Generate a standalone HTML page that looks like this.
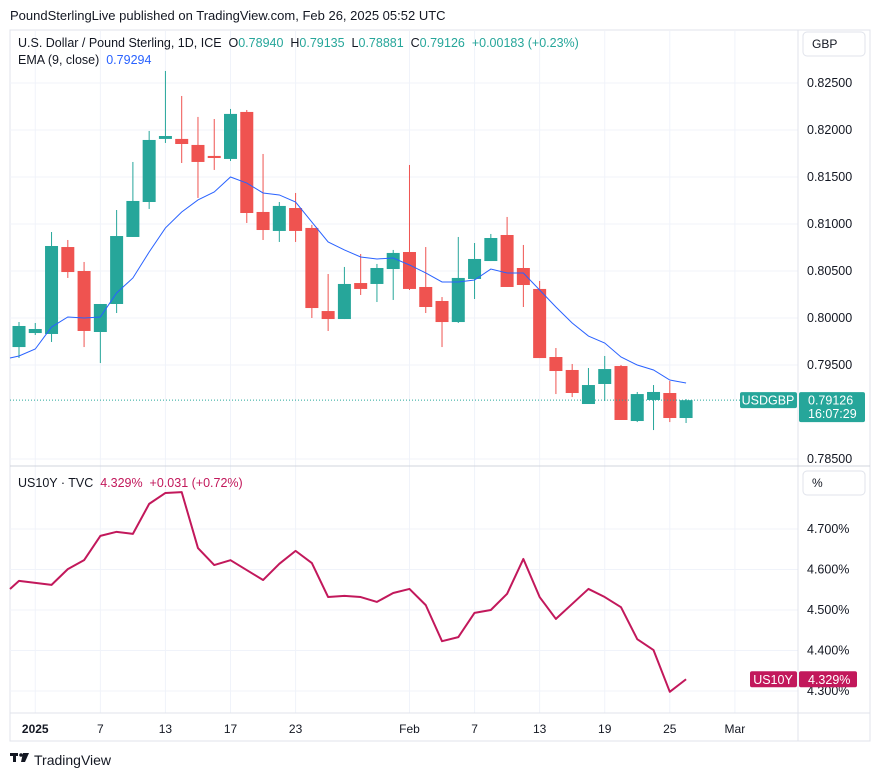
<!DOCTYPE html>
<html><head><meta charset="utf-8"><style>
body{margin:0;background:#fff;width:880px;height:776px;overflow:hidden;font-family:"Liberation Sans",sans-serif}
svg text{font-family:"Liberation Sans",sans-serif;white-space:pre}
</style></head><body>
<svg id="c" width="880" height="776" xmlns="http://www.w3.org/2000/svg">
<text x="10" y="20" font-size="13" fill="#131722">PoundSterlingLive published on TradingView.com, Feb 26, 2025 05:52 UTC</text>
<rect x="10" y="30" width="860" height="711" fill="none" stroke="#e0e3eb"/>
<g id="grid"></g>
<line x1="798" y1="30" x2="798" y2="741" stroke="#e0e3eb"/>
<line x1="10" y1="466" x2="870" y2="466" stroke="#d1d4dc"/>
<line x1="10" y1="713" x2="870" y2="713" stroke="#e0e3eb"/>
<g id="candles"></g>
<g id="ema"></g>
<g id="yld"></g>
<g id="axes"></g>
<text x="18" y="47" font-size="12.5" fill="#131722" xml:space="preserve">U.S. Dollar / Pound Sterling, 1D, ICE  O<tspan fill="#26a69a">0.78940</tspan>  H<tspan fill="#26a69a">0.79135</tspan>  L<tspan fill="#26a69a">0.78881</tspan>  C<tspan fill="#26a69a">0.79126</tspan>  <tspan fill="#26a69a">+0.00183 (+0.23%)</tspan></text>
<text x="18" y="64" font-size="12.5" fill="#131722" xml:space="preserve">EMA (9, close)  <tspan fill="#2962ff">0.79294</tspan></text>
<text x="18" y="487" font-size="12.5" fill="#131722" xml:space="preserve">US10Y · TVC  <tspan fill="#c2185b">4.329%  +0.031 (+0.72%)</tspan></text>
<rect x="803" y="32" width="62" height="24" rx="4" fill="#fff" stroke="#e0e3eb"/>
<text x="812" y="48" font-size="12" fill="#131722">GBP</text>
<rect x="803" y="471" width="62" height="24" rx="4" fill="#fff" stroke="#e0e3eb"/>
<text x="812" y="487" font-size="12" fill="#131722">%</text>
<g fill="#131722">
<rect x="10" y="753" width="8" height="3"/><rect x="13" y="753" width="3" height="9"/>
<circle cx="21" cy="755" r="1.8"/><polygon points="23,753 29,753 25,762 21,762"/>
</g>
<text x="34" y="765" font-size="14" fill="#131722">TradingView</text>
</svg>
<script>
const opens=[0.79691,0.79840,0.79830,0.80755,0.80500,0.79851,0.80149,0.80862,0.81234,0.81905,0.81905,0.81841,0.81724,0.81692,0.82192,0.81128,0.80926,0.81170,0.80958,0.80074,0.79989,0.80372,0.80362,0.80521,0.80702,0.80330,0.80181,0.79957,0.80415,0.80606,0.80883,0.80532,0.80309,0.79585,0.79447,0.79085,0.79298,0.79489,0.78904,0.79128,0.79202,0.78936];
const highs=[0.79957,0.79947,0.80915,0.80830,0.80596,0.80149,0.81149,0.81660,0.81990,0.82628,0.82362,0.82139,0.82117,0.82224,0.82213,0.81745,0.81234,0.81330,0.80990,0.80468,0.80543,0.80681,0.80575,0.80724,0.81628,0.80755,0.80223,0.80862,0.80798,0.80894,0.81075,0.80777,0.80394,0.79681,0.79511,0.79468,0.79596,0.79500,0.79213,0.79287,0.79330,0.79138];
const lows=[0.79574,0.79819,0.79745,0.80426,0.79691,0.79521,0.80053,0.80862,0.81160,0.81862,0.81649,0.81277,0.81575,0.81670,0.81011,0.80830,0.80809,0.80809,0.80000,0.79862,0.79989,0.80245,0.80170,0.80192,0.80298,0.80053,0.79691,0.79947,0.80202,0.80606,0.80330,0.80117,0.79574,0.79191,0.79159,0.79085,0.79117,0.78915,0.78893,0.78808,0.78893,0.78883];
const closes=[0.79915,0.79883,0.80766,0.80489,0.79862,0.80149,0.80872,0.81245,0.81894,0.81936,0.81851,0.81660,0.81702,0.82171,0.81117,0.80936,0.81192,0.80926,0.80106,0.79989,0.80362,0.80309,0.80532,0.80692,0.80309,0.80117,0.79957,0.80426,0.80628,0.80851,0.80330,0.80351,0.79574,0.79436,0.79202,0.79287,0.79457,0.78915,0.79191,0.79213,0.78936,0.79126];
const emaVals=[0.79596,0.79670,0.79904,0.80011,0.80000,0.80011,0.80266,0.80426,0.80702,0.80958,0.81128,0.81256,0.81341,0.81500,0.81436,0.81330,0.81309,0.81234,0.81021,0.80809,0.80724,0.80649,0.80628,0.80638,0.80564,0.80479,0.80383,0.80383,0.80404,0.80521,0.80479,0.80479,0.80298,0.80117,0.79947,0.79808,0.79734,0.79585,0.79500,0.79447,0.79340,0.79308];
const yieldVals=[4.572,null,4.562,4.601,4.623,4.683,4.693,4.688,4.762,4.789,4.791,4.653,4.611,4.623,null,4.574,4.614,4.646,4.616,4.532,4.535,4.532,4.520,4.542,4.552,4.512,4.423,4.433,4.493,4.500,4.540,4.626,4.532,4.478,4.515,4.552,4.532,4.507,4.428,4.401,4.298,4.329];
const priceTicks=[0.825,0.820,0.815,0.810,0.805,0.800,0.795,0.785];
const yieldTicks=[4.7,4.6,4.5,4.4,4.3];
const timeLabels=["2025","7","13","17","23","Feb","7","13","19","25","Mar"];
const timeIdx=[1,5,9,13,17,24,28,32,36,40,44];

const NS="http://www.w3.org/2000/svg";
const X=i=>19+i*16.27;
const PY=p=>318-(p-0.8)*9400;
const YY=v=>529+(4.7-v)*405;
function mk(t,a,parent){const e=document.createElementNS(NS,t);for(const k in a)e.setAttribute(k,a[k]);document.getElementById(parent).appendChild(e);return e;}

timeIdx.forEach((ti,k)=>{
  const l=mk('line',{x1:X(ti),y1:31,x2:X(ti),y2:713,stroke:'#f0f3fa'},'grid');
  
  
  const t=mk('text',{x:X(ti),y:733,'font-size':12,fill:'#131722','text-anchor':'middle','font-weight':k==0?'bold':'normal'},'axes');
  t.textContent=timeLabels[k];
  
  
});
priceTicks.forEach(p=>{
  const l=mk('line',{x1:10,y1:PY(p),x2:798,y2:PY(p),stroke:'#f0f3fa'},'grid');
  
  
  const t=mk('text',{x:807,y:PY(p)+4,'font-size':12.5,fill:'#131722'},'axes');
  t.textContent=p.toFixed(5);
  
  
});
yieldTicks.forEach(v=>{
  const l=mk('line',{x1:10,y1:YY(v),x2:798,y2:YY(v),stroke:'#f0f3fa'},'grid');
  
  
  const t=mk('text',{x:807,y:YY(v)+4,'font-size':12.5,fill:'#131722'},'axes');
  t.textContent=v.toFixed(3)+'%';
  
  
});
opens.forEach((o,i)=>{
  const c=closes[i],up=c>=o,col=up?'#26a69a':'#ef5350',x=X(i);
  const w=mk('line',{x1:x,y1:PY(highs[i]),x2:x,y2:PY(lows[i]),stroke:col,'stroke-width':1},'candles');
  
  
  const top=PY(Math.max(o,c)),h=Math.max(1.5,Math.abs(PY(o)-PY(c)));
  const b=mk('rect',{x:x-6.5,y:top,width:13,height:h,fill:col},'candles');
  
  
});
const ep=mk('polyline',{points:'10,'+(PY(emaVals[0])+2)+' '+emaVals.map((v,i)=>X(i)+','+PY(v)).join(' '),fill:'none',stroke:'#2962ff','stroke-width':1},'ema');


const pts=[];yieldVals.forEach((v,i)=>{if(v!==null)pts.push(X(i)+','+YY(v));});
const yp=mk('polyline',{points:'10,589 '+pts.join(' '),fill:'none',stroke:'#c2185b','stroke-width':2,'stroke-linejoin':'round'},'yld');


const lc=closes[closes.length-1],ly=PY(lc);
const dl=mk('line',{x1:10,y1:ly,x2:798,y2:ly,stroke:'#26a69a','stroke-dasharray':'1 2'},'axes');


const r1=mk('rect',{x:740,y:ly-8,width:57,height:16,rx:2,fill:'#26a69a'},'axes');


const t1=mk('text',{x:768,y:ly+4.5,'font-size':12.5,fill:'#fff','text-anchor':'middle'},'axes');t1.textContent='USDGBP';


const r2=mk('rect',{x:799,y:ly-8,width:66,height:30,rx:2,fill:'#26a69a'},'axes');


const t2=mk('text',{x:808,y:ly+4.5,'font-size':12.5,fill:'#fff'},'axes');t2.textContent=lc.toFixed(5);


const t3=mk('text',{x:808,y:ly+18,'font-size':12.5,fill:'#fff'},'axes');t3.textContent='16:07:29';


const lv=yieldVals[yieldVals.length-1],yy=YY(lv);
const r3=mk('rect',{x:750,y:yy-8,width:47,height:16,rx:2,fill:'#c2185b'},'axes');


const t4=mk('text',{x:773,y:yy+4.5,'font-size':12.5,fill:'#fff','text-anchor':'middle'},'axes');t4.textContent='US10Y';


const r4=mk('rect',{x:799,y:yy-8,width:58,height:16,rx:2,fill:'#c2185b'},'axes');


const t5=mk('text',{x:808,y:yy+4.5,'font-size':12.5,fill:'#fff'},'axes');t5.textContent=lv.toFixed(3)+'%';


</script>
</body></html>
